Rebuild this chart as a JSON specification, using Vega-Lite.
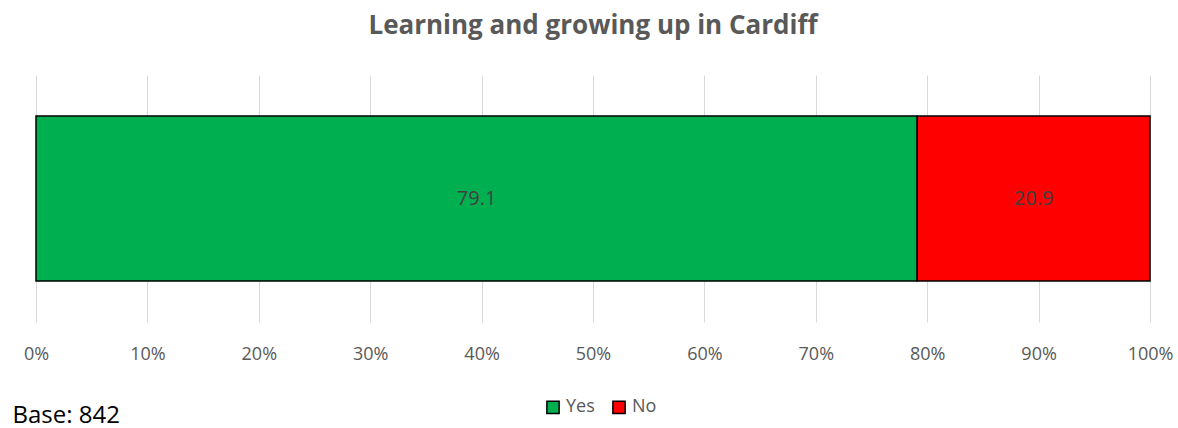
{
  "$schema": "https://vega.github.io/schema/vega-lite/v6.json",
  "autosize": "none",
  "width": 1114,
  "height": 247,
  "padding": {"left": 36, "top": 75, "right": 28, "bottom": 106},
  "background": "white",
  "config": {"font": "Open Sans", "view": {"stroke": null}},
  "title": {
    "text": "Learning and growing up in Cardiff",
    "fontSize": 26,
    "fontWeight": "bold",
    "color": "#595959",
    "anchor": "middle",
    "baseline": "alphabetic",
    "offset": 15
  },
  "data": {
    "values": [
      {"survey": "Learning and growing up in Cardiff", "answer": "Yes", "percent": 79.1, "rank": 1},
      {"survey": "Learning and growing up in Cardiff", "answer": "No", "percent": 20.9, "rank": 2}
    ]
  },
  "transform": [
    {"stack": "percent", "groupby": ["survey"], "sort": [{"field": "rank", "order": "ascending"}], "as": ["p0", "p1"]}
  ],
  "encoding": {
    "y": {"field": "survey", "type": "nominal", "axis": null, "scale": {"paddingInner": 0, "paddingOuter": 0}}
  },
  "layer": [
    {
      "mark": {"type": "bar", "stroke": "#000000", "strokeWidth": 1.5, "size": 165},
      "encoding": {
        "x": {
          "field": "p0",
          "type": "quantitative",
          "scale": {"domain": [0, 100], "nice": false},
          "axis": {
            "values": [0, 10, 20, 30, 40, 50, 60, 70, 80, 90, 100],
            "labelExpr": "datum.value + '%'",
            "grid": true,
            "gridColor": "#d9d9d9",
            "gridWidth": 1,
            "domain": false,
            "ticks": false,
            "labelFlush": false,
            "labelPadding": 23,
            "labelFontSize": 18,
            "labelColor": "#595959",
            "title": "Base: 842",
            "titleX": -24,
            "titleY": 100,
            "titleAlign": "left",
            "titleAnchor": "start",
            "titleBaseline": "alphabetic",
            "titleFontSize": 24,
            "titleFontWeight": "normal",
            "titleColor": "#000000"
          }
        },
        "x2": {"field": "p1"},
        "color": {
          "field": "answer",
          "type": "nominal",
          "scale": {"domain": ["Yes", "No"], "range": ["#00B050", "#FF0000"]},
          "legend": {
            "title": null,
            "orient": "none",
            "legendX": 508,
            "legendY": 323,
            "direction": "horizontal",
            "symbolType": "square",
            "symbolSize": 150,
            "symbolStrokeColor": "#000000",
            "symbolStrokeWidth": 1.5,
            "symbolOpacity": 1,
            "labelFontSize": 18,
            "labelColor": "#595959",
            "labelOffset": 4,
            "columnPadding": 14
          }
        }
      }
    },
    {
      "transform": [{"fold": ["p0", "p1"], "as": ["edge", "pos"]}],
      "mark": {"type": "text", "fontSize": 20, "color": "#404040"},
      "encoding": {
        "x": {"aggregate": "mean", "field": "pos", "type": "quantitative"},
        "detail": {"field": "answer", "type": "nominal"},
        "text": {"aggregate": "max", "field": "percent", "type": "quantitative", "format": ".1f"}
      }
    }
  ]
}
